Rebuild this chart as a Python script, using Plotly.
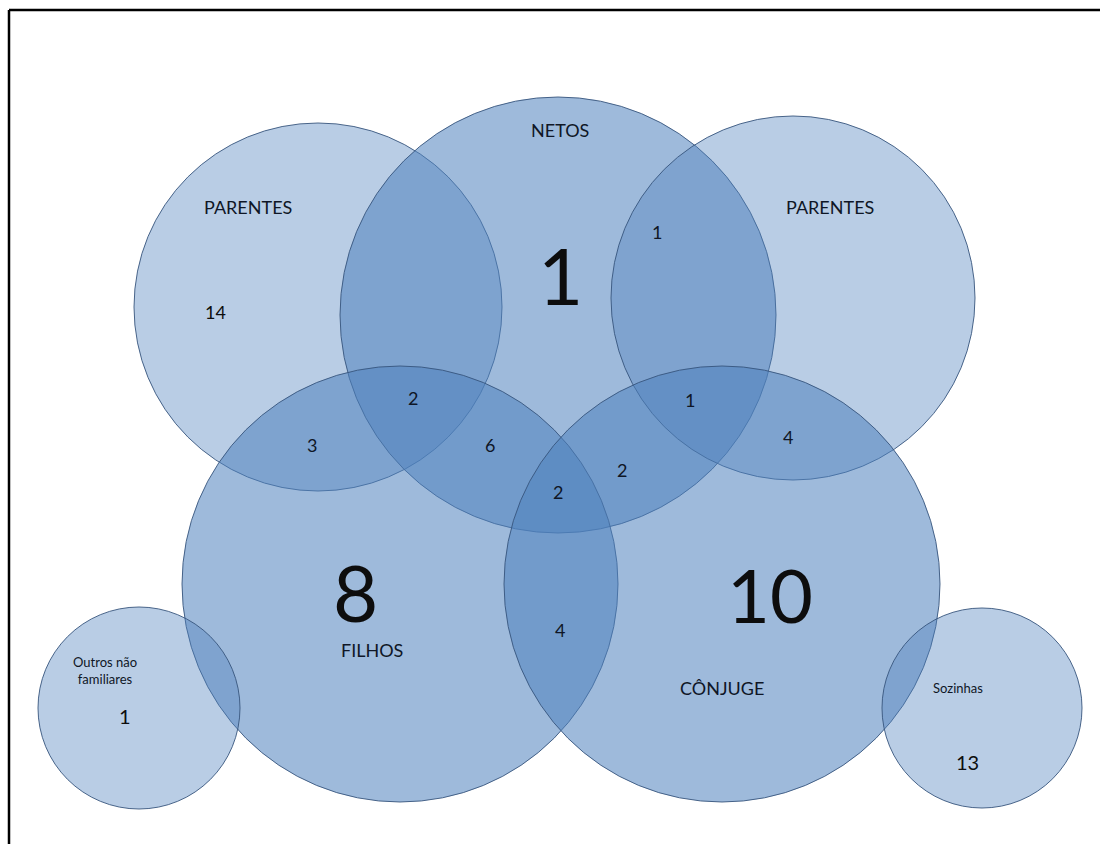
import plotly.graph_objects as go

# ---- data ----
set_names = ["PARENTES", "NETOS", "PARENTES", "FILHOS", "CÔNJUGE", "Outros não<br>familiares", "Sozinhas"]
only_counts = [14, 1, None, 8, 10, 1, 13]
intersection_labels = ["PARENTES∩NETOS", "PARENTES∩NETOS∩FILHOS", "PARENTES∩FILHOS", "NETOS∩FILHOS",
                       "NETOS∩FILHOS∩CÔNJUGE", "NETOS∩CÔNJUGE", "NETOS∩PARENTES(2)", "NETOS∩PARENTES(2)∩CÔNJUGE",
                       "PARENTES(2)∩CÔNJUGE", "FILHOS∩CÔNJUGE"]
intersection_counts = [None, 2, 3, 6, 2, 2, 1, 1, 4, 4]

# ---- layout (pixel geometry) ----
circles = [  # cx, cy, r, opacity
    (318, 307, 184, 0.40),
    (558, 315, 218, 0.55),
    (793, 298, 182, 0.40),
    (400, 584, 218, 0.55),
    (722, 584, 218, 0.55),
    (139, 708, 101, 0.40),
    (982, 708, 100, 0.40),
]
name_pos = [(248, 207, 18), (560, 130, 18), (830, 207, 18), (372, 650, 18), (722, 688, 18), (105, 670, 13), (958, 688, 13)]
count_pos = [(215, 312, 18), (560, 275, 78), None, (355, 592, 78), (770, 594, 74), (125, 716, 20), (967, 762, 20)]
inter_pos = [None, (413, 398), (312, 445), (490, 445), (558, 492), (622, 470), (657, 232), (690, 400), (788, 437), (560, 630)]

FONT = "Lato"
fig = go.Figure()
fig.add_trace(go.Scatter(x=[0, 1100], y=[0, 844], mode="markers", marker=dict(opacity=0), hoverinfo="skip", showlegend=False))

for (cx, cy, r, op) in circles:
    fig.add_shape(type="circle", xref="x", yref="y", x0=cx - r, x1=cx + r, y0=cy - r, y1=cy + r,
                  fillcolor=f"rgba(79,129,189,{op})", line=dict(color="rgba(55,85,125,0.9)", width=1), layer="above")

for name, pos in zip(set_names, name_pos):
    x, y, s = pos
    fig.add_annotation(x=x, y=y, text=name, showarrow=False, font=dict(family=FONT, size=s, color="#0f1626"))

for cnt, pos in zip(only_counts, count_pos):
    if cnt is None or pos is None:
        continue
    x, y, s = pos
    fig.add_annotation(x=x, y=y, text=str(cnt), showarrow=False, font=dict(family=FONT, size=s, color="#0d0d0d"))

for lab, cnt, pos in zip(intersection_labels, intersection_counts, inter_pos):
    if cnt is None or pos is None:
        continue
    x, y = pos
    fig.add_annotation(x=x, y=y, text=str(cnt), showarrow=False, font=dict(family=FONT, size=18, color="#0f1626"))

# frame lines
fig.add_shape(type="line", xref="x", yref="y", x0=9, x1=1100, y0=10, y1=10, line=dict(color="black", width=2.5))
fig.add_shape(type="line", xref="x", yref="y", x0=9, x1=9, y0=10, y1=844, line=dict(color="black", width=2.5))

fig.update_xaxes(range=[0, 1100], visible=False, fixedrange=True)
fig.update_yaxes(range=[844, 0], visible=False, fixedrange=True)
fig.update_layout(width=1100, height=844, margin=dict(l=0, r=0, t=0, b=0),
                  plot_bgcolor="white", paper_bgcolor="white", showlegend=False)

fig.write_html("out.html")
